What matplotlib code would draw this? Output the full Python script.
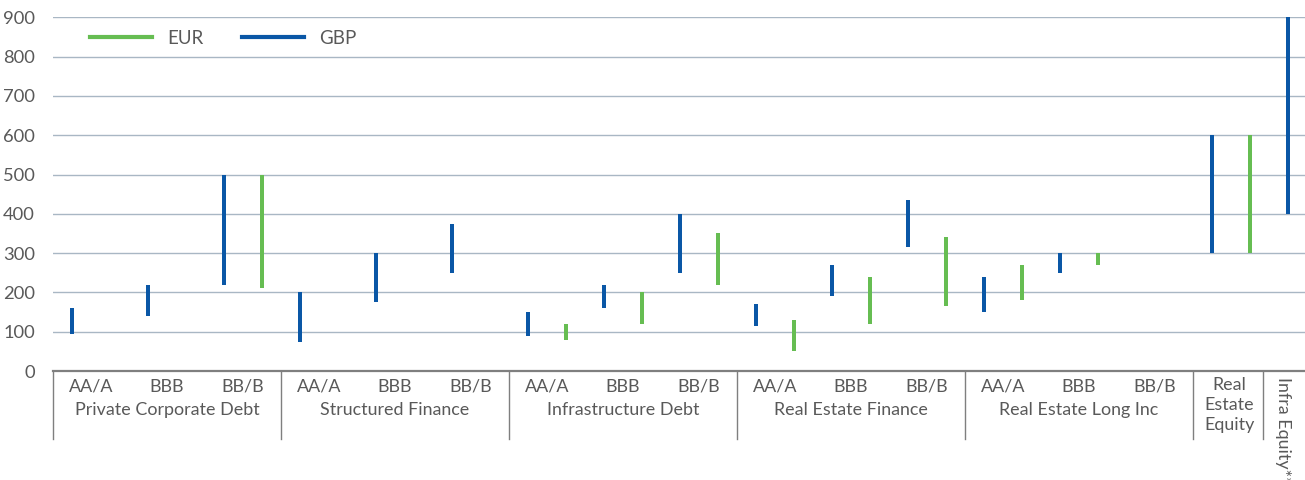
import matplotlib.pyplot as plt
import numpy as np

plt.rcParams['font.family'] = ['Lato', 'DejaVu Sans']
plt.rcParams['font.size'] = 12.9

nan = np.nan

# Data (ranges per rating bucket)
sub_labels = ['AA/A', 'BBB', 'BB/B'] * 5 + ['', '']
groups = ['Private Corporate Debt', 'Structured Finance', 'Infrastructure Debt',
          'Real Estate Finance', 'Real Estate Long Inc', 'Real\nEstate\nEquity', 'Infra Equity**']
group_sizes = [3, 3, 3, 3, 3, 1, 1]

gbp_low = [95, 140, 220, 75, 175, 250, 90, 160, 250, 115, 190, 315, 150, 250, nan, 300, 400]
gbp_high = [160, 220, 500, 200, 300, 375, 150, 220, 400, 170, 270, 435, 240, 300, nan, 600, 900]
eur_low = [nan, nan, 210, nan, nan, nan, 80, 120, 220, 50, 120, 165, 180, 270, nan, 300, nan]
eur_high = [nan, nan, 500, nan, nan, nan, 120, 200, 350, 130, 240, 340, 270, 300, nan, 600, nan]

blue = '#0A57A6'
green = '#66BD52'
txt = '#595959'

W, H = 1305, 480
fig = plt.figure(figsize=(W / 100, H / 100), dpi=100)
y0, y1 = 371, 17.3
ax = fig.add_axes([53 / W, (H - y0) / H, (W - 53) / W, (y0 - y1) / H])

x = np.arange(len(sub_labels))
gl, gh = np.array(gbp_low), np.array(gbp_high)
el, eh = np.array(eur_low), np.array(eur_high)
bw = 0.052
ax.bar(x - 0.25, gh - gl, bottom=gl, width=bw, color=blue, zorder=3)
ax.bar(x + 0.25, eh - el, bottom=el, width=bw, color=green, zorder=3)

ax.set_xlim(-0.5, (W - 53) / 76 - 0.5)
ax.set_ylim(0, 900)
ax.set_yticks(np.arange(0, 901, 100))
ax.set_xticks([])
ax.yaxis.grid(True, color='#A9B7C4', linewidth=1.0, zorder=0)
ax.set_axisbelow(True)
for s in ['top', 'right', 'left']:
    ax.spines[s].set_visible(False)
ax.spines['bottom'].set_color('#7F7F7F')
ax.spines['bottom'].set_linewidth(1.6)
ax.tick_params(axis='y', length=0, pad=13, labelcolor=txt, labelsize=13.2)


def ay(ypix):
    return (y0 - ypix) / (y0 - y1)


tr = ax.get_xaxis_transform()
for i, lab in enumerate(sub_labels):
    if lab:
        ax.text(i, ay(387), lab, transform=tr, ha='center', va='center',
                color=txt, clip_on=False)

# group labels and dividers
start = 0
bounds = [-0.5]
for g, n in zip(groups, group_sizes):
    end = start + n
    bounds.append(end - 0.5)
    c = (start + end - 1) / 2
    if n == 3:
        ax.text(c, ay(410), g, transform=tr, ha='center', va='center',
                color=txt, clip_on=False)
    elif '\n' in g:
        ax.text(c - 0.02, ay(377), g, transform=tr, ha='center', va='top',
                color=txt, linespacing=1.32, clip_on=False)
    else:
        ax.text(c - 0.32, ay(377), g, transform=tr, ha='center', va='top',
                rotation=-90, color=txt, clip_on=False)
    start = end

# last divider sits a little left of the category edge, as in the source
bounds[-2] -= 0.08
for b in bounds[:-1]:
    ax.plot([b, b], [0, ay(439)], transform=tr, color='#7F7F7F',
            linewidth=1.0, clip_on=False)

handles = [plt.Line2D([], [], color=green, lw=3, label='EUR'),
           plt.Line2D([], [], color=blue, lw=3, label='GBP')]
ax.legend(handles=handles, loc='upper left', bbox_to_anchor=(0.016, 1.012),
          ncol=2, frameon=False, handlelength=3.3, columnspacing=2.1,
          handletextpad=0.8, fontsize=13.5, labelcolor=txt)

fig.savefig('out.png', dpi=100)
